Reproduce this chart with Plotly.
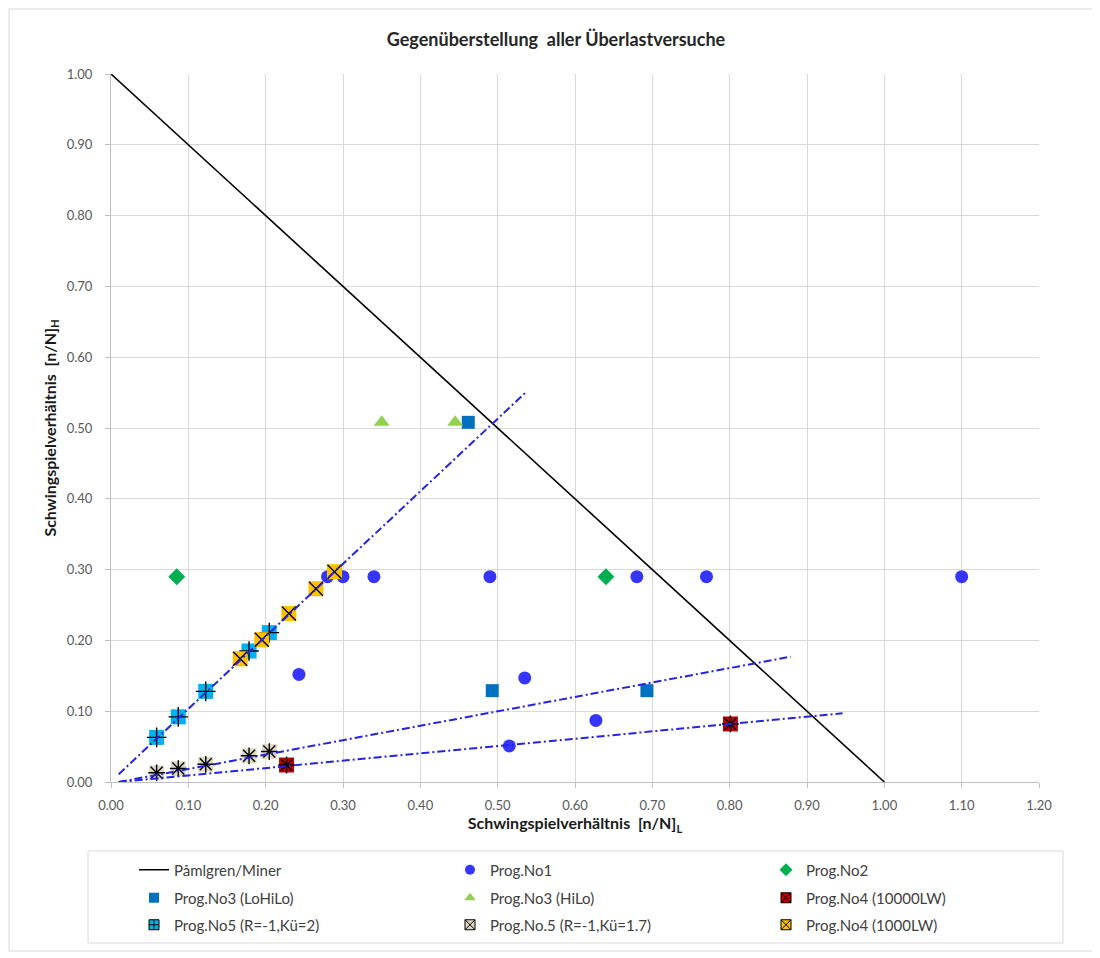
import plotly.graph_objects as go

# ---------------- data ----------------
miner_x = [0.0, 1.0]
miner_y = [1.0, 0.0]

no1_x = [0.28, 0.30, 0.34, 0.49, 0.68, 0.77, 1.10, 0.243, 0.535, 0.627, 0.515]
no1_y = [0.29, 0.29, 0.29, 0.29, 0.29, 0.29, 0.29, 0.152, 0.147, 0.087, 0.051]

no2_x = [0.085, 0.64]
no2_y = [0.29, 0.29]

no3_lohilo_x = [0.462, 0.493, 0.693]
no3_lohilo_y = [0.508, 0.129, 0.129]

no3_hilo_x = [0.350, 0.445]
no3_hilo_y = [0.508, 0.508]

no4_10000_x = [0.227, 0.801]
no4_10000_y = [0.024, 0.082]

no5_k2_x = [0.059, 0.087, 0.1225, 0.1785, 0.2047]
no5_k2_y = [0.063, 0.092, 0.128, 0.185, 0.211]

no5_k17_x = [0.059, 0.087, 0.1225, 0.1785, 0.2047]
no5_k17_y = [0.013, 0.019, 0.025, 0.037, 0.043]

no4_1000_x = [0.167, 0.195, 0.230, 0.265, 0.289]
no4_1000_y = [0.174, 0.201, 0.238, 0.273, 0.297]

trend_steep_x = [0.01, 0.536]
trend_steep_y = [0.011, 0.55]
trend_mid_x = [0.01, 0.879]
trend_mid_y = [0.0, 0.177]
trend_low_x = [0.01, 0.946]
trend_low_y = [0.0, 0.097]

x_ticks = [round(i * 0.1, 2) for i in range(13)]
y_ticks = [round(i * 0.1, 2) for i in range(11)]

# ---------------- styles ----------------
FONT = "Lato"
C_NO1 = "#3535FF"
C_NO2 = "#00B050"
C_LOHILO = "#0070C0"
C_HILO = "#92D050"
C_10000 = "#C00000"
C_K2 = "#00B0F0"
C_K17 = "#DDD9C3"
C_1000 = "#FFC000"
C_TREND = "#2424E0"

fig = go.Figure()

# Miner line (with legend)
fig.add_trace(go.Scatter(x=miner_x, y=miner_y, mode="lines", name="Påmlgren/Miner",
                         line=dict(color="black", width=1.6), legend="legend",
                         legendwidth=271))

# marker traces (no legend)
def pts(x, y, symbol, color, size, name):
    fig.add_trace(go.Scatter(x=x, y=y, mode="markers", name=name, showlegend=False,
                             marker=dict(symbol=symbol, color=color, size=size,
                                         line=dict(width=0))))

def overlay(x, y, symbol, name):
    fig.add_trace(go.Scatter(x=x, y=y, mode="markers", name=name, showlegend=False,
                             marker=dict(symbol=symbol, color="black", size=14,
                                         line=dict(color="black", width=1.4))))

pts(no1_x, no1_y, "circle", C_NO1, 13, "Prog.No1")
pts(no2_x, no2_y, "diamond", C_NO2, 13, "Prog.No2")
pts(no3_lohilo_x, no3_lohilo_y, "square", C_LOHILO, 13, "Prog.No3 (LoHiLo)")
pts(no3_hilo_x, no3_hilo_y, "triangle-up", C_HILO, 14, "Prog.No3 (HiLo)")
pts(no4_10000_x, no4_10000_y, "square", C_10000, 15, "Prog.No4 (10000LW)")
overlay(no4_10000_x, no4_10000_y, "asterisk-open", "Prog.No4 (10000LW)")
pts(no5_k2_x, no5_k2_y, "square", C_K2, 15, "Prog.No5 (R=-1,Kü=2)")
overlay(no5_k2_x, no5_k2_y, "cross-thin-open", "Prog.No5 (R=-1,Kü=2)")
pts(no5_k17_x, no5_k17_y, "square", C_K17, 15, "Prog.No.5 (R=-1,Kü=1.7)")
overlay(no5_k17_x, no5_k17_y, "asterisk-open", "Prog.No.5 (R=-1,Kü=1.7)")
pts(no4_1000_x, no4_1000_y, "square", C_1000, 15, "Prog.No4 (1000LW)")
overlay(no4_1000_x, no4_1000_y, "x-thin-open", "Prog.No4 (1000LW)")

# trend lines (drawn over markers)
for tx, ty in [(trend_steep_x, trend_steep_y), (trend_mid_x, trend_mid_y), (trend_low_x, trend_low_y)]:
    fig.add_trace(go.Scatter(x=tx, y=ty, mode="lines", showlegend=False, hoverinfo="skip",
                             line=dict(color=C_TREND, width=2, dash="8px,3px,2px,3px")))

# legend-only entries
def leg(name, symbol, color, legend, width, line_color=None):
    fig.add_trace(go.Scatter(x=[None], y=[None], mode="markers", name=name, legend=legend,
                             legendwidth=width,
                             marker=dict(symbol=symbol, color=color, size=10,
                                         line=dict(color=line_color or color,
                                                   width=1 if line_color else 0))))

leg("Prog.No1", "circle", C_NO1, "legend", 271)
leg("Prog.No2", "diamond", C_NO2, "legend", 160)
leg("Prog.No3 (LoHiLo)", "square", C_LOHILO, "legend2", 271)
leg("Prog.No3 (HiLo)", "triangle-up", C_HILO, "legend2", 271)
leg("Prog.No4 (10000LW)", "square-x", C_10000, "legend2", 160, "black")
leg("Prog.No5 (R=-1,Kü=2)", "square-cross", C_K2, "legend3", 271, "black")
leg("Prog.No.5 (R=-1,Kü=1.7)", "square-x", C_K17, "legend3", 271, "black")
leg("Prog.No4 (1000LW)", "square-x", C_1000, "legend3", 160, "black")

# page offset (browser body margin) compensated: figure starts at screen (8, 8)
OFF = 8
W, H = 1100 - OFF, 958 - OFF
L, R, T, B = 111 - OFF, 1100 - 1039, 74 - OFF, 958 - 782
pw, ph = W - L - R, H - T - B

def px(x_screen):
    return (x_screen - OFF - L) / pw

def py(y_screen):
    return (H - B - (y_screen - OFF)) / ph

leg_common = dict(orientation="h", xanchor="left", yanchor="middle", x=px(134),
                  font=dict(family=FONT, size=15, color="#404040"),
                  bgcolor="rgba(0,0,0,0)", borderwidth=0, entrywidthmode="pixels")

axis_common = dict(showgrid=True, gridcolor="#D9D9D9", gridwidth=1,
                   showline=True, linecolor="#BFBFBF", linewidth=1,
                   ticks="outside", ticklen=5, tickcolor="#BFBFBF",
                   tickformat=".2f", zeroline=False,
                   tickfont=dict(family=FONT, size=13, color="#595959"))

fig.update_layout(
    width=W, height=H, autosize=False,
    margin=dict(l=L, r=R, t=T, b=B),
    paper_bgcolor="white", plot_bgcolor="white",
    title=dict(text="Gegenüberstellung \u00a0aller Überlastversuche", x=(556 - OFF) / W,
               xref="container", y=1 - (40 - OFF) / H, yref="container",
               yanchor="middle", xanchor="center",
               font=dict(family=FONT, size=18, color="#262626", weight="bold")),
    xaxis=dict(range=[0, 1.2], tickvals=x_ticks, ticklabelstandoff=6,
               title=dict(text="Schwingspielverhältnis \u00a0[n/N]<sub>L</sub>", standoff=6,
                          font=dict(family=FONT, size=16, color="#1a1a1a", weight="bold")),
               **axis_common),
    yaxis=dict(range=[0, 1.0], tickvals=y_ticks, ticklabelstandoff=10,
               title=dict(text="Schwingspielverhältnis \u00a0[n/N]<sub>H</sub>", standoff=6,
                          font=dict(family=FONT, size=16, color="#1a1a1a", weight="bold")),
               **axis_common),
    legend=dict(y=py(870), **leg_common),
    legend2=dict(y=py(898), **leg_common),
    legend3=dict(y=py(925), **leg_common),
    shapes=[
        dict(type="rect", xref="paper", yref="paper", x0=px(88), x1=px(1063),
             y0=py(943), y1=py(851), line=dict(color="#D9D9D9", width=1), layer="below"),
        dict(type="rect", xref="paper", yref="paper", x0=px(9), x1=px(1095),
             y0=py(951), y1=py(9), line=dict(color="#D9D9D9", width=1), layer="below"),
    ],
    showlegend=True,
)

fig.write_html("out.html")
